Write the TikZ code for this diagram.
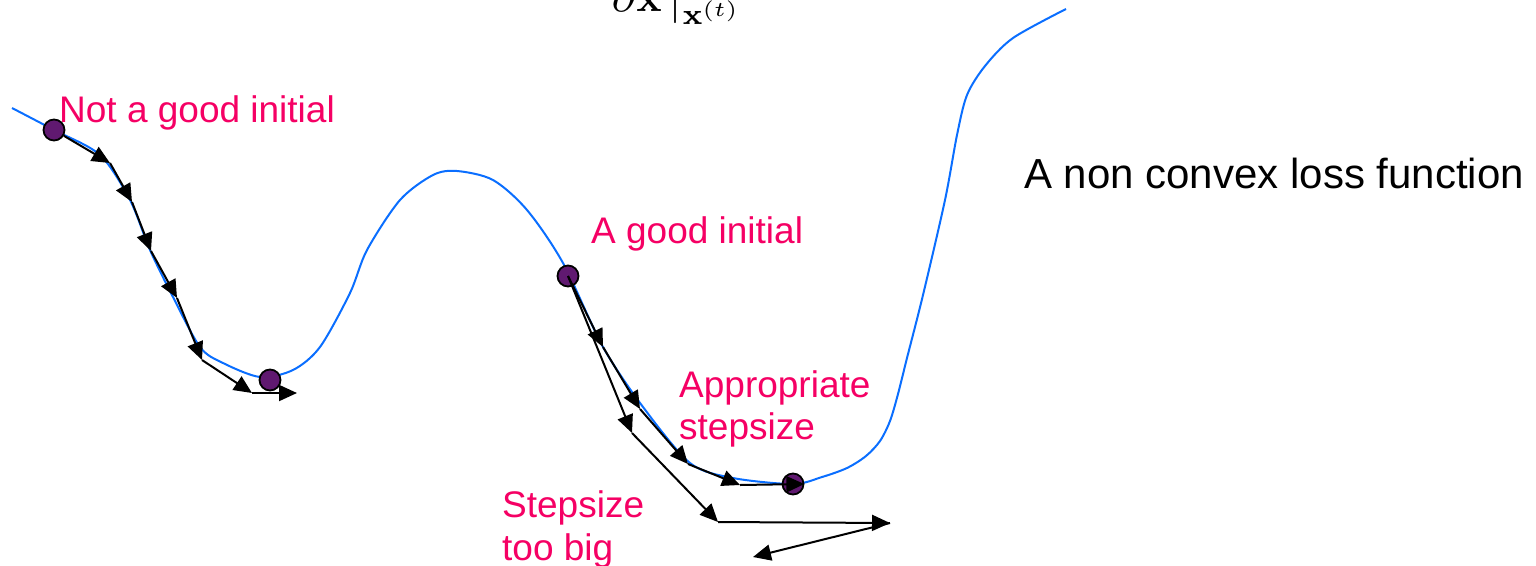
\documentclass[tikz,border=0pt]{standalone}
\usepackage[no-math]{fontspec}
\setmainfont{Liberation Sans}
\usepackage{amsmath}
\usetikzlibrary{arrows.meta}
\definecolor{losscurve}{RGB}{10,110,255}
\definecolor{notepink}{RGB}{245,0,100}
\definecolor{dotpurple}{RGB}{96,25,112}

\begin{document}
\begin{tikzpicture}[
    x=1pt, y=-1pt,
    dot/.style={circle, draw, fill=dotpurple, line width=1.8pt, minimum size=21pt, inner sep=0pt},
    arrow/.style={-{Triangle[length=18pt, width=16pt]}, line width=2pt},
    note/.style={text=notepink, font=\fontsize{37}{42.5}\selectfont, align=left, inner sep=0pt},
    curve/.style={losscurve, line width=2pt}
]
\useasboundingbox (0,0) rectangle (1536,565);
\node[anchor=south west, inner sep=0pt] (grad) at (600,25) {\scalebox{4.2}{$\left.\dfrac{\partial L}{\partial\mathbf{x}}\right|_{\mathbf{x}^{(t)}}$}};

\draw[curve] plot[smooth] coordinates {(12,108) (54,130) (100,155) (130,200) (150,250) (173,297) (200,347) (223,363) (260,377) (293,370) (320,347) (350,293) (367,250) (400,200) (433,175) (457,171) (493,180) (527,210) (563,263) (603,347) (643,407) (690,463) (733,478) (793,484) (822,477) (847,468) (866,456) (880,441) (890,421) (898,394) (907,358) (923,295) (945,200) (957,135) (967,95) (985,66) (1013,38) (1066,9)};

\node[dot] (init1) at (54,130) {};
\node[dot] (min1) at (270,380) {};
\node[dot] (init2) at (568,276) {};
\node[dot] (min2) at (793,484) {};

\coordinate (a1) at (110,163);
\coordinate (a2) at (132,202);
\coordinate (a3) at (151,251);
\coordinate (a4) at (177,298);
\coordinate (a5) at (202,360);
\coordinate (a6) at (252,393);
\coordinate (a7) at (297,393);
\draw[arrow] (init1) -- (a1);
\draw[arrow] (a1) -- (a2);
\draw[arrow] (a2) -- (a3);
\draw[arrow] (a3) -- (a4);
\draw[arrow] (a4) -- (a5);
\draw[arrow] (a5) -- (a6);
\draw[arrow] (a6) -- (a7);

\coordinate (b1) at (603,347);
\coordinate (b2) at (640,409);
\coordinate (b3) at (688,464);
\coordinate (b4) at (740,485);
\draw[arrow] (init2.center) -- (b1);
\draw[arrow] (b1) -- (b2);
\draw[arrow] (b2) -- (b3);
\draw[arrow] (b3) -- (b4);
\draw[arrow] (b4) -- (min2.east);

\coordinate (c1) at (632,433);
\coordinate (c2) at (718,522);
\coordinate (c3) at (890,523);
\coordinate (c4) at (753,557);
\draw[arrow] (init2.center) -- (c1);
\draw[arrow] (c1) -- (c2);
\draw[arrow] (c2) -- (c3);
\draw[arrow] (c3) -- (c4);

\node[note, anchor=base west] (bad) at (59,122) {Not a good initial};
\node[note, anchor=base west] (good) at (591,243) {A good initial};
\node[note, anchor=base west] (fine) at (679,439.5) {Appropriate\\stepsize};
\node[note, anchor=base west] (big) at (502,560) {Stepsize\\too big};
\node[font=\fontsize{42}{48}\selectfont, anchor=base west, inner sep=0pt] (title) at (1024,188) {A non convex loss function};
\end{tikzpicture}
\end{document}
